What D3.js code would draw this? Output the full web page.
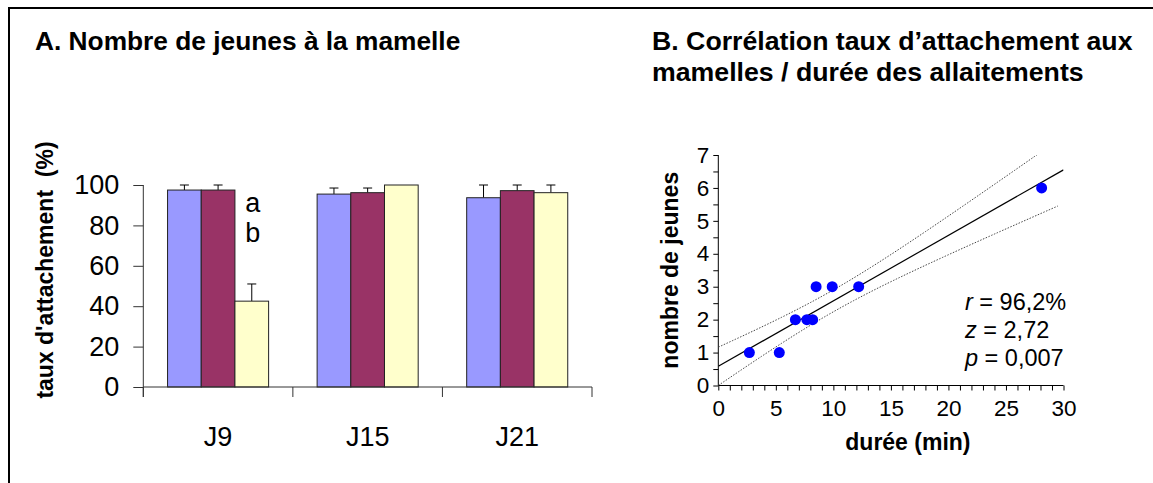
<!DOCTYPE html>
<html><head><meta charset="utf-8">
<script src="https://cdn.jsdelivr.net/npm/d3@7"></script>
<style>
body{margin:0;background:#fff}
svg{display:block;font-family:"Liberation Sans",Arial,Helvetica,sans-serif}
</style>
</head><body>
<svg id="c" width="1153" height="483"></svg>
<script>
// ---------- Data: panel A ----------
const days = ["J9", "J15", "J21"];
const groups = ["g1", "g2", "g3"];
const meansG1 = [97.5, 95.5, 93.7];
const meansG2 = [97.5, 96.2, 97.2];
const meansG3 = [42.5, 100, 96.2];
const errG1 = [2.5, 3.0, 6.3];
const errG2 = [2.5, 2.3, 2.8];
const errG3 = [8.5, 0, 3.8];
const barColors = ["#9999FF", "#993366", "#FFFFCC"];
const yTicksA = [0, 20, 40, 60, 80, 100];
const letterLabels = ["a", "b"];
const letterValues = [86.5, 72];

// ---------- Data: panel B ----------
const dureeMin = [2.7, 5.3, 6.7, 7.7, 8.2, 8.5, 9.9, 12.2, 28.1];
const nbJeunes = [1, 1, 2, 2, 2, 3, 3, 3, 6];
const yTicksB = [0, 1, 2, 3, 4, 5, 6, 7];
const xTicksB = [0, 5, 10, 15, 20, 25, 30];
const statNames = ["r", "z", "p"];
const statValues = [" = 96,2%", " = 2,72", " = 0,007"];

const svg = d3.select("#c");
const FONT = '"Liberation Sans",Arial,sans-serif';

// frame
svg.append("rect").attr("x", 9).attr("y", 8).attr("width", 1200).attr("height", 520)
  .attr("fill", "none").attr("stroke", "#000").attr("stroke-width", 2);

// ---------- Panel A ----------
const gA = svg.append("g");
gA.append("text").attr("x", 35).attr("y", 50).attr("font-size", 26.3).attr("font-weight", "bold")
  .text("A. Nombre de jeunes à la mamelle");

const xA = d3.scaleBand().domain(days).range([143.3, 592]).padding(0);
const xG = d3.scaleBand().domain(groups).range([0, xA.bandwidth()]).paddingInner(0).paddingOuter(0.72);
const yA = d3.scaleLinear().domain([0, 100]).range([387, 185]);

const rows = days.map((d, i) => ({
  day: d,
  vals: [
    {g: "g1", v: meansG1[i], e: errG1[i], c: barColors[0]},
    {g: "g2", v: meansG2[i], e: errG2[i], c: barColors[1]},
    {g: "g3", v: meansG3[i], e: errG3[i], c: barColors[2]}
  ]
}));

const grp = gA.selectAll("g.day").data(rows).join("g")
  .attr("transform", d => `translate(${xA(d.day)},0)`);

// error bars (upward only)
grp.selectAll("g.err").data(d => d.vals.filter(v => v.e > 0)).join("g").each(function(d) {
  const cx = xG(d.g) + xG.bandwidth() / 2;
  const g = d3.select(this);
  g.append("line").attr("x1", cx).attr("x2", cx).attr("y1", yA(d.v)).attr("y2", yA(d.v + d.e))
    .attr("stroke", "#000").attr("stroke-width", 1);
  g.append("line").attr("x1", cx - 4.5).attr("x2", cx + 4.5).attr("y1", yA(d.v + d.e)).attr("y2", yA(d.v + d.e))
    .attr("stroke", "#000").attr("stroke-width", 1);
});

grp.selectAll("rect").data(d => d.vals).join("rect")
  .attr("x", d => xG(d.g))
  .attr("y", d => yA(d.v))
  .attr("width", xG.bandwidth())
  .attr("height", d => yA(0) - yA(d.v))
  .attr("fill", d => d.c)
  .attr("stroke", "#222").attr("stroke-width", 1);

// letters a / b above J9 third bar
gA.selectAll("text.let").data(letterLabels).join("text")
  .attr("x", xA("J9") + xG("g3") + xG.bandwidth() / 2 + 1)
  .attr("y", (d, i) => yA(letterValues[i]))
  .attr("text-anchor", "middle").attr("font-size", 27).text(d => d);

// y axis A
const yAxisA = d3.axisLeft(yA).tickValues(yTicksA).tickSize(10).tickPadding(14).tickFormat(d3.format("d"));
const gyA = gA.append("g").attr("transform", "translate(143.3,0)").call(yAxisA);
gyA.select(".domain").attr("d", `M0,${yA(100)}V${yA(0) + 10}`).attr("stroke", "#333");
gyA.selectAll(".tick line").attr("stroke", "#333");
gyA.selectAll(".tick text").attr("font-size", 27).attr("font-family", FONT).attr("fill", "#000");

// x axis A
const boundaries = days.map(d => xA(d)).concat([xA.range()[1]]);
gA.append("line").attr("x1", xA.range()[0]).attr("x2", xA.range()[1]).attr("y1", yA(0)).attr("y2", yA(0))
  .attr("stroke", "#333");
gA.selectAll("line.bt").data(boundaries).join("line")
  .attr("x1", d => d).attr("x2", d => d).attr("y1", yA(0)).attr("y2", yA(0) + 10).attr("stroke", "#333");
gA.selectAll("text.cat").data(days).join("text")
  .attr("x", d => xA(d) + xA.bandwidth() / 2).attr("y", 446)
  .attr("text-anchor", "middle").attr("font-size", 27).text(d => d);

gA.append("text").attr("transform", "translate(53,270) rotate(-90)")
  .attr("text-anchor", "middle").attr("font-size", 23).attr("font-weight", "bold")
  .attr("xml:space", "preserve").style("white-space", "pre")
  .text("taux d'attachement  (%)");

// ---------- Panel B ----------
const gB = svg.append("g");
const titleB = gB.append("text").attr("font-size", 26.7).attr("font-weight", "bold");
titleB.append("tspan").attr("x", 652).attr("y", 50).text("B. Corrélation taux d’attachement aux");
titleB.append("tspan").attr("x", 652).attr("y", 81).text("mamelles / durée des allaitements");

const xB = d3.scaleLinear().domain([0, 30]).range([718.3, 1063.5]);
const yB = d3.scaleLinear().domain([0, 7]).range([385.5, 155]);

// axes
const gyB = gB.append("g").attr("transform", `translate(${xB(0)},0)`)
  .call(d3.axisLeft(yB).tickValues(d3.range(0, 7.01, 0.5)).tickSize(5).tickPadding(4)
    .tickFormat(d => yTicksB.includes(d) ? d : ""));
gyB.select(".domain").attr("d", `M0,${yB(7)}V${yB(0)}`).attr("stroke", "#000");
gyB.selectAll(".tick line").attr("stroke", "#000");
gyB.selectAll(".tick text").attr("font-size", 22.5).attr("font-family", FONT).attr("fill", "#000");

const gxB = gB.append("g").attr("transform", `translate(0,${yB(0)})`)
  .call(d3.axisBottom(xB).tickValues(d3.range(0, 30.01, 1)).tickSize(5).tickPadding(10)
    .tickFormat(d => xTicksB.includes(d) ? d : ""));
gxB.select(".domain").attr("d", `M${xB(0)},0H${xB(30)}`).attr("stroke", "#000");
gxB.selectAll(".tick line").attr("stroke", "#000");
gxB.selectAll(".tick text").attr("font-size", 22.5).attr("font-family", FONT).attr("fill", "#000");

// regression & 95% confidence band computed from the points
const n = dureeMin.length;
const mx = d3.mean(dureeMin), my = d3.mean(nbJeunes);
const sxx = d3.sum(dureeMin, x => (x - mx) ** 2);
const sxy = d3.sum(dureeMin.map((x, i) => (x - mx) * (nbJeunes[i] - my)));
const slope = sxy / sxx, icpt = my - slope * mx;
const sse = d3.sum(dureeMin.map((x, i) => (nbJeunes[i] - (icpt + slope * x)) ** 2));
const s = Math.sqrt(sse / (n - 2));
const tCrit = 2.365;
const fit = x => icpt + slope * x;
const half = x => tCrit * s * Math.sqrt(1 / n + (x - mx) ** 2 / sxx);

const clipId = "clipB";
gB.append("clipPath").attr("id", clipId).append("rect")
  .attr("x", xB(0)).attr("y", yB(7)).attr("width", xB(30) - xB(0)).attr("height", yB(0) - yB(7));

const xs = d3.range(0, 29.51, 0.25);
const line = d3.line().x(d => xB(d[0])).y(d => yB(d[1]));
gB.append("path").attr("clip-path", `url(#${clipId})`)
  .attr("d", line(xs.map(x => [x, fit(x) + half(x)])))
  .attr("fill", "none").attr("stroke", "#444").attr("stroke-width", 1).attr("stroke-dasharray", "1.5,1.5");
gB.append("path").attr("clip-path", `url(#${clipId})`)
  .attr("d", line(xs.map(x => [x, fit(x) - half(x)])))
  .attr("fill", "none").attr("stroke", "#444").attr("stroke-width", 1).attr("stroke-dasharray", "1.5,1.5");
gB.append("path").attr("clip-path", `url(#${clipId})`)
  .attr("d", line([[0, fit(0)], [30, fit(30)]]))
  .attr("fill", "none").attr("stroke", "#000").attr("stroke-width", 1.2);

gB.selectAll("circle").data(dureeMin).join("circle")
  .attr("cx", d => xB(d)).attr("cy", (d, i) => yB(nbJeunes[i])).attr("r", 5.5)
  .attr("fill", "#0000FF");

// stats
const st = gB.selectAll("text.st").data(statNames).join("text")
  .attr("x", 965).attr("y", (d, i) => 310 + i * 28).attr("font-size", 23.5);
st.append("tspan").attr("font-style", "italic").text(d => d);
st.append("tspan").text((d, i) => statValues[i]);

// axis titles
gB.append("text").attr("x", (xB(0) + xB(30)) / 2 + 17).attr("y", 450)
  .attr("text-anchor", "middle").attr("font-size", 23).attr("font-weight", "bold").text("durée (min)");
gB.append("text").attr("transform", `translate(678,${(yB(0) + yB(7)) / 2})rotate(-90)`)
  .attr("text-anchor", "middle").attr("font-size", 23).attr("font-weight", "bold").text("nombre de jeunes");
</script>
</body></html>
